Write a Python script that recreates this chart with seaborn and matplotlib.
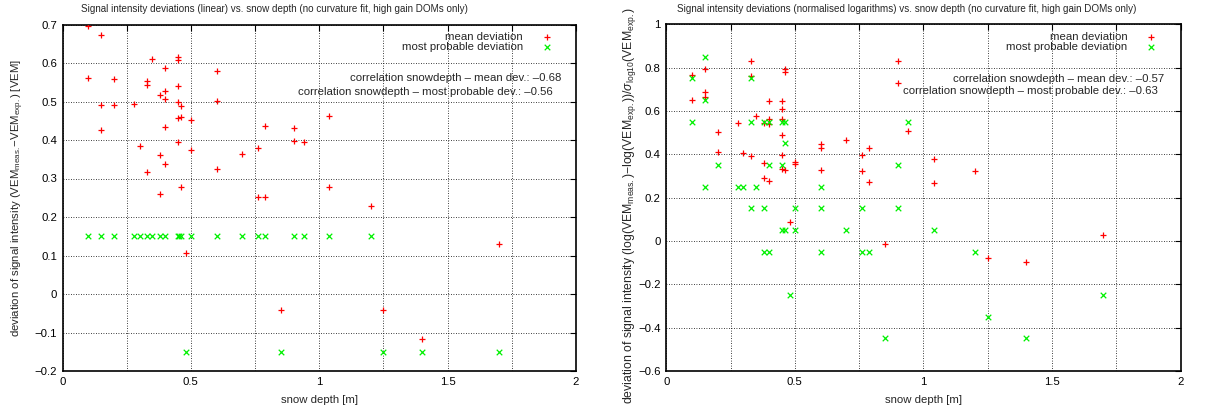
import numpy as np
import pandas as pd
import matplotlib
matplotlib.use("Agg")
import matplotlib.pyplot as plt
from matplotlib.ticker import MultipleLocator
import seaborn as sns

# ---- linear deviations [VEM] ----
lin_mean_depth = [0.10, 0.10, 0.15, 0.15, 0.15, 0.20, 0.20, 0.28, 0.30, 0.33, 0.33, 0.33,
                  0.35, 0.38, 0.38, 0.38, 0.40, 0.40, 0.40, 0.40, 0.40, 0.45, 0.45, 0.45,
                  0.45, 0.45, 0.45, 0.46, 0.46, 0.46, 0.48, 0.50, 0.50, 0.60, 0.60, 0.60,
                  0.70, 0.76, 0.76, 0.79, 0.79, 0.85, 0.90, 0.90, 0.94, 1.04, 1.04, 1.20,
                  1.25, 1.40, 1.70]
lin_mean_dev = [0.696, 0.562, 0.672, 0.491, 0.426, 0.558, 0.491, 0.494, 0.384, 0.553, 0.543, 0.317,
                0.611, 0.517, 0.360, 0.260, 0.587, 0.526, 0.507, 0.433, 0.337, 0.615, 0.608, 0.539,
                0.500, 0.457, 0.396, 0.489, 0.461, 0.277, 0.107, 0.452, 0.375, 0.578, 0.502, 0.324,
                0.363, 0.378, 0.252, 0.436, 0.252, -0.042, 0.430, 0.397, 0.394, 0.462, 0.278, 0.229,
                -0.042, -0.118, 0.131]

lin_mp_depth = [0.10, 0.15, 0.20, 0.28, 0.30, 0.33, 0.35, 0.38, 0.40, 0.45, 0.455, 0.46,
                0.50, 0.60, 0.70, 0.76, 0.79, 0.90, 0.94, 1.04, 1.20,
                0.48, 0.85, 1.25, 1.40, 1.70]
lin_mp_dev = [0.15, 0.15, 0.15, 0.15, 0.15, 0.15, 0.15, 0.15, 0.15, 0.15, 0.15, 0.15,
              0.15, 0.15, 0.15, 0.15, 0.15, 0.15, 0.15, 0.15, 0.15,
              -0.15, -0.15, -0.15, -0.15, -0.15]

# ---- normalised logarithmic deviations ----
log_mean_depth = [0.10, 0.10, 0.15, 0.15, 0.15, 0.20, 0.20, 0.28, 0.30, 0.33, 0.33, 0.33,
                  0.35, 0.38, 0.38, 0.38, 0.40, 0.40, 0.40, 0.40, 0.45, 0.45, 0.45, 0.45,
                  0.45, 0.45, 0.46, 0.46, 0.46, 0.48, 0.50, 0.50, 0.60, 0.60, 0.60, 0.70,
                  0.76, 0.76, 0.79, 0.79, 0.85, 0.90, 0.90, 0.94, 1.04, 1.04, 1.20, 1.25,
                  1.40, 1.70]
log_mean_dev = [0.768, 0.651, 0.795, 0.689, 0.666, 0.502, 0.412, 0.546, 0.406, 0.829, 0.760, 0.391,
                0.578, 0.543, 0.358, 0.289, 0.645, 0.565, 0.540, 0.276, 0.648, 0.609, 0.563, 0.489,
                0.396, 0.331, 0.795, 0.778, 0.326, 0.089, 0.365, 0.355, 0.446, 0.428, 0.326, 0.466,
                0.397, 0.322, 0.428, 0.274, -0.014, 0.829, 0.728, 0.509, 0.380, 0.269, 0.325, -0.077,
                -0.098, 0.026]

log_mp_depth = [0.10, 0.10, 0.15, 0.15, 0.15, 0.20, 0.28, 0.30, 0.33, 0.33, 0.33, 0.35,
                0.38, 0.38, 0.38, 0.40, 0.40, 0.40, 0.45, 0.45, 0.45, 0.46, 0.46, 0.46,
                0.48, 0.50, 0.50, 0.60, 0.60, 0.60, 0.70, 0.76, 0.76, 0.79, 0.85, 0.90,
                0.90, 0.94, 1.04, 1.20, 1.25, 1.40, 1.70]
log_mp_dev = [0.75, 0.55, 0.85, 0.65, 0.25, 0.35, 0.25, 0.25, 0.75, 0.55, 0.15, 0.25,
              0.55, 0.15, -0.05, 0.55, 0.35, -0.05, 0.55, 0.35, 0.05, 0.55, 0.45, 0.05,
              -0.25, 0.15, 0.05, 0.25, 0.15, -0.05, 0.05, 0.15, -0.05, -0.05, -0.45, 0.35,
              0.15, 0.55, 0.05, -0.05, -0.35, -0.45, -0.25]

titles = ["Signal intensity deviations (linear) vs. snow depth (no curvature fit, high gain DOMs only)",
          "Signal intensity deviations (normalised logarithms) vs. snow depth (no curvature fit, high gain DOMs only)"]
ylabels = [r"deviation of signal intensity (VEM$_{\mathrm{meas.}}$$-$VEM$_{\mathrm{exp.}}$) [VEM]",
           r"deviation of signal intensity (log(VEM$_{\mathrm{meas.}}$)$-$log(VEM$_{\mathrm{exp.}}$))/$\sigma_{\mathrm{log10}}$(VEM$_{\mathrm{exp.}}$)"]
corr_texts = [("correlation snowdepth \u2013 mean dev.: \u20130.68",
               "correlation snowdepth \u2013 most probable dev.: \u20130.56"),
              ("correlation snowdepth \u2013 mean dev.: \u20130.57",
               "correlation snowdepth \u2013 most probable dev.: \u20130.63")]
legend_labels = ["mean deviation", "most probable deviation"]

sns.set_theme(style="white")
plt.rcParams["font.family"] = ["Liberation Sans", "DejaVu Sans"]
plt.rcParams["mathtext.fontset"] = "custom"
plt.rcParams["mathtext.rm"] = "Liberation Sans"
plt.rcParams["mathtext.it"] = "Liberation Sans:italic"
plt.rcParams["mathtext.sf"] = "Liberation Sans"
plt.rcParams["axes.unicode_minus"] = True

FS = 8.2
TITLE_FS = 7.1
fig = plt.figure(figsize=(12.07, 4.15), dpi=100)
ax1 = fig.add_axes([62.5 / 1207, 1 - 371 / 415, 513.4 / 1207, 346.5 / 415])
ax2 = fig.add_axes([666.2 / 1207, 1 - 371 / 415, 514.4 / 1207, 346.7 / 415])

panels = [
    (ax1, lin_mean_depth, lin_mean_dev, lin_mp_depth, lin_mp_dev, (-0.2, 0.7), 0.1, 0),
    (ax2, log_mean_depth, log_mean_dev, log_mp_depth, log_mp_dev, (-0.6, 1.0), 0.2, 1),
]
title_x = [0.412, 0.467]
ylabel_fs = [FS, 8.8]
ylabel_pos = [(-0.071, 0.5), (-0.055, 0.478)]

for ax, md, mv, pd_, pv, ylim, ystep, i in panels:
    df_mean = pd.DataFrame({"depth": md, "dev": mv})
    df_mp = pd.DataFrame({"depth": pd_, "dev": pv})
    sns.scatterplot(data=df_mean, x="depth", y="dev", marker="+", color="#ff0000",
                    s=24, linewidth=0.9, ax=ax, label=legend_labels[0], zorder=3)
    sns.scatterplot(data=df_mp, x="depth", y="dev", marker="x", color="#00f000",
                    s=16, linewidth=0.9, ax=ax, label=legend_labels[1], zorder=3)

    ax.set_xlim(0, 2)
    ax.set_ylim(*ylim)
    ax.xaxis.set_major_locator(MultipleLocator(0.5))
    ax.xaxis.set_minor_locator(MultipleLocator(0.25))
    ax.yaxis.set_major_locator(MultipleLocator(ystep))
    ax.xaxis.set_major_formatter(plt.FuncFormatter(lambda v, p: f"{v:g}".replace("-", "\u2212")))
    ax.yaxis.set_major_formatter(plt.FuncFormatter(lambda v, p: f"{round(v, 2):g}".replace("-", "\u2212")))

    ax.grid(True, which="both", axis="x", color="black", linestyle=(0, (1, 2)), linewidth=0.6)
    ax.grid(True, which="major", axis="y", color="black", linestyle=(0, (1, 2)), linewidth=0.6)
    ax.tick_params(axis="both", which="both", direction="in", top=True, right=True,
                   length=4, width=0.8, labelsize=FS, pad=4, colors="black")
    for sp in ax.spines.values():
        sp.set_visible(True)
        sp.set_color("black")
        sp.set_linewidth(1.2)

    ax.set_xlabel("snow depth [m]", fontsize=FS, labelpad=6)
    ax.set_ylabel(ylabels[i], fontsize=ylabel_fs[i])
    ax.yaxis.set_label_coords(*ylabel_pos[i])
    ax.set_title(titles[i], fontsize=TITLE_FS, pad=9, x=title_x[i])

    leg = ax.legend(loc="upper right", bbox_to_anchor=(0.954, 0.977), frameon=False,
                    markerfirst=False, fontsize=FS, handlelength=1.0, handletextpad=1.6,
                    labelspacing=-0.05, borderpad=0, borderaxespad=0)

    c1, c2 = corr_texts[i]
    xs = [(0.971, 0.846, 0.955, 0.805), (0.968, 0.842, 0.955, 0.808)][i]
    ax.text(xs[0], xs[1], c1, transform=ax.transAxes, ha="right", va="center", fontsize=FS)
    ax.text(xs[2], xs[3], c2, transform=ax.transAxes, ha="right", va="center", fontsize=FS)

fig.savefig("out.png", dpi=100)
